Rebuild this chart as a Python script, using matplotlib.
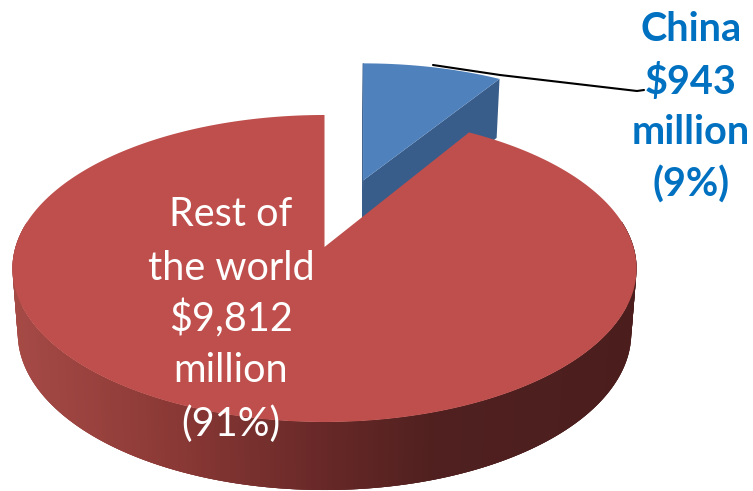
import numpy as np
import matplotlib
matplotlib.use("Agg")
import matplotlib.pyplot as plt
from matplotlib.colors import LinearSegmentedColormap

# sales in $ million
regions = ["China", "Rest of the world"]
values = [943, 9812]

BLUE_TOP = "#4F81BD"
BLUE_SIDE = "#385D8A"
RED_TOP = "#BE4F4C"
TEXT_BLUE = "#0070C0"

# perspective of the disc, in pixels
CX, CY = 324.5, 247
A, B = 309, 150.5
K = 0.14
DEPTH = 63.8
EXPLODE = 0.49
LEAN = 4.5  # the pulled out slice stands a little more upright


def project(u, v):
    w = 1 + K * v
    return CX + A * u / w, CY - B * v / w


def project_low(u, v):
    x, y = project(u, v)
    return CX + (x - CX) * 0.983, y + DEPTH / (1 + 0.062 * v)


total = sum(values)
china_sweep = 2 * np.pi * values[0] / total
china_end = np.pi / 2 - china_sweep
mid = np.pi / 2 - china_sweep / 2
off_u, off_v = EXPLODE * np.cos(mid), EXPLODE * np.sin(mid)

fig = plt.figure(figsize=(7.53, 4.91), dpi=100)
ax = fig.add_axes([0, 0, 1, 1])
ax.set_xlim(0, 753)
ax.set_ylim(491, 0)
ax.axis("off")

# China slice: walls first, top over them
t = np.linspace(china_end, np.pi / 2, 40)
u = off_u + np.cos(t)
v = off_v + np.sin(t)
lean = LEAN * np.sin(t)
px, py = project(off_u, off_v)
qx, qy = project_low(off_u, off_v)
x0, y0 = project(u[0], v[0])
x1, y1 = project_low(u[0], v[0])
ax.fill([px, x0 + lean[0], x1 + lean[0], qx], [py, y0, y1, qy], color=BLUE_SIDE, lw=0, zorder=1)
x2, y2 = project(u[-1], v[-1])
x3, y3 = project_low(u[-1], v[-1])
ax.fill([px, x2 + lean[-1], x3 + lean[-1], qx], [py, y2, y3, qy], color=BLUE_SIDE, lw=0.5, zorder=1)
rx, ry = project(u, v)
ax.fill(np.r_[px, rx + lean], np.r_[py, ry], color=BLUE_TOP, lw=0, zorder=2)

# leader line
ax.plot([433, 500, 637, 644], [65, 75, 91, 90], color="black", lw=1.5,
        solid_capstyle="round", zorder=3)

# rest of the pie: outer wall as overlapping strips, shaded left to right
shade = LinearSegmentedColormap.from_list(
    "wall",
    [(0.0, "#A64A46"), (0.25, "#8B3936"), (0.5, "#672827"),
     (0.68, "#4F201F"), (1.0, "#4B1E1D")],
)
t = np.radians(np.linspace(170, 370, 240))
tx, ty = project(np.cos(t), np.sin(t))
lx, ly = project_low(np.cos(t), np.sin(t))
for i in range(len(t) - 1):
    j = min(i + 3, len(t) - 1)
    c = shade((tx[i] - 12) / (636 - 12))
    ax.fill(np.r_[tx[i:j + 1], lx[i:j + 1][::-1]],
            np.r_[ty[i:j + 1], ly[i:j + 1][::-1]],
            color=c, lw=0, zorder=4)

t = np.linspace(np.pi / 2, 2 * np.pi + china_end, 400)
rx, ry = project(np.cos(t), np.sin(t))
ax.fill(np.r_[CX, rx], np.r_[CY, ry], color=RED_TOP, lw=0, zorder=5)

# labels
font = ["Lato", "DejaVu Sans"]
pct = [round(100 * val / total) for val in values]

china_lines = [regions[0], f"${values[0]:,}", "million", f"({pct[0]}%)"]
for line, y in zip(china_lines, [29, 82, 133, 185]):
    ax.text(691, y, line, color=TEXT_BLUE, fontsize=28.5, fontweight="bold",
            family=font, ha="center", va="center", zorder=6)

rest_lines = ["Rest of", "the world", f"${values[1]:,}", "million", f"({pct[1]}%)"]
for line, y in zip(rest_lines, [215, 268, 319, 371, 424]):
    ax.text(231, y, line, color="white", fontsize=28.5,
            family=font, ha="center", va="center", zorder=6)

fig.savefig("out.png", dpi=100)
